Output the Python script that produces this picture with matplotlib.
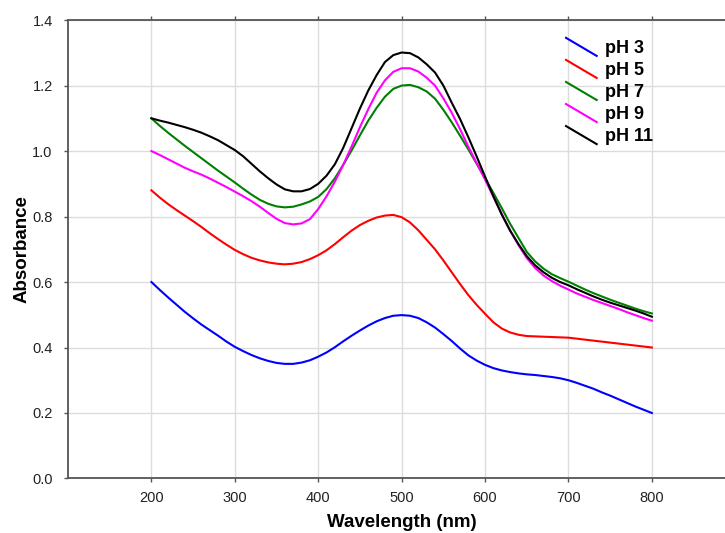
import numpy as np
import matplotlib
matplotlib.use('Agg')
import matplotlib.pyplot as plt
from matplotlib.lines import Line2D
from matplotlib.legend_handler import HandlerBase

plt.rcParams['font.family'] = ['Liberation Sans', 'DejaVu Sans']

# Wavelength (nm), 10 nm steps
wavelength = list(range(200, 810, 10))

# Absorbance
ph3 = [0.600, 0.576, 0.553, 0.531, 0.509, 0.489, 0.470, 0.453, 0.436, 0.418,
       0.402, 0.389, 0.377, 0.367, 0.359, 0.353, 0.350, 0.350, 0.354, 0.361,
       0.372, 0.385, 0.401, 0.419, 0.436, 0.452, 0.467, 0.480, 0.490, 0.497,
       0.499, 0.497, 0.490, 0.477, 0.461, 0.441, 0.420, 0.397, 0.376, 0.360,
       0.347, 0.337, 0.330, 0.325, 0.321, 0.318, 0.316, 0.313, 0.310, 0.306,
       0.300, 0.292, 0.283, 0.274, 0.263, 0.253, 0.242, 0.231, 0.220, 0.210,
       0.200]
ph5 = [0.880, 0.858, 0.838, 0.820, 0.803, 0.786, 0.768, 0.749, 0.731, 0.714,
       0.698, 0.685, 0.674, 0.666, 0.660, 0.656, 0.654, 0.656, 0.661, 0.670,
       0.682, 0.697, 0.716, 0.737, 0.757, 0.774, 0.787, 0.797, 0.803, 0.805,
       0.798, 0.782, 0.758, 0.729, 0.700, 0.666, 0.630, 0.594, 0.560, 0.530,
       0.503, 0.477, 0.458, 0.446, 0.439, 0.435, 0.434, 0.433, 0.432, 0.431,
       0.430, 0.427, 0.424, 0.421, 0.418, 0.415, 0.412, 0.409, 0.406, 0.403,
       0.400]
ph7 = [1.100, 1.077, 1.056, 1.036, 1.016, 0.997, 0.978, 0.959, 0.940, 0.922,
       0.904, 0.885, 0.867, 0.851, 0.839, 0.831, 0.828, 0.830, 0.837, 0.846,
       0.860, 0.884, 0.917, 0.958, 1.002, 1.048, 1.093, 1.132, 1.166, 1.190,
       1.200, 1.202, 1.195, 1.182, 1.160, 1.126, 1.088, 1.047, 1.005, 0.961,
       0.917, 0.872, 0.826, 0.778, 0.735, 0.692, 0.663, 0.641, 0.624, 0.612,
       0.601, 0.589, 0.577, 0.566, 0.556, 0.546, 0.537, 0.528, 0.519, 0.511,
       0.504]
ph9 = [1.000, 0.988, 0.975, 0.962, 0.949, 0.938, 0.928, 0.916, 0.903, 0.890,
       0.876, 0.862, 0.847, 0.830, 0.811, 0.793, 0.780, 0.776, 0.779, 0.792,
       0.823, 0.862, 0.907, 0.958, 1.014, 1.073, 1.128, 1.178, 1.216, 1.242,
       1.253, 1.253, 1.243, 1.224, 1.200, 1.161, 1.117, 1.067, 1.013, 0.963,
       0.913, 0.860, 0.808, 0.758, 0.713, 0.673, 0.643, 0.620, 0.603, 0.589,
       0.577, 0.565, 0.555, 0.545, 0.536, 0.527, 0.518, 0.508, 0.499, 0.490,
       0.482]
ph11 = [1.100, 1.093, 1.087, 1.080, 1.073, 1.065, 1.056, 1.045, 1.033, 1.018,
        1.003, 0.984, 0.961, 0.938, 0.917, 0.898, 0.883, 0.877, 0.877, 0.884,
        0.900, 0.925, 0.960, 1.010, 1.070, 1.130, 1.185, 1.232, 1.272, 1.293,
        1.301, 1.299, 1.286, 1.265, 1.240, 1.200, 1.148, 1.098, 1.042, 0.983,
        0.922, 0.862, 0.806, 0.757, 0.716, 0.679, 0.651, 0.630, 0.613, 0.600,
        0.590, 0.578, 0.567, 0.556, 0.546, 0.537, 0.529, 0.521, 0.513, 0.504,
        0.494]

labels = ['pH 3', 'pH 5', 'pH 7', 'pH 9', 'pH 11']
colors = ['#0000ff', '#ff0000', '#008000', '#ff00ff', '#000000']
series = [ph3, ph5, ph7, ph9, ph11]


class SlantHandler(HandlerBase):
    # legend keys drawn as slanted lines (top-left to bottom-right)
    def create_artists(self, legend, orig_handle, xdescent, ydescent,
                       width, height, fontsize, trans):
        x0, y0 = -xdescent, -ydescent
        line = Line2D([x0, x0 + width], [y0 + height * 1.2, y0 - height * 0.23],
                      color=orig_handle.get_color(), lw=orig_handle.get_linewidth())
        line.set_transform(trans)
        return [line]


fig = plt.figure(figsize=(7.25, 5.33), dpi=100)
ax = fig.add_axes([0.0938, 0.1023, 0.9204, 0.860])

lines = []
for y, c, lab in zip(series, colors, labels):
    ln, = ax.plot(wavelength, y, color=c, lw=1.5, label=lab)
    lines.append(ln)

ax.set_xlim(100, 900)
ax.set_ylim(0, 1.4)
ax.set_xticks([200, 300, 400, 500, 600, 700, 800])
ax.set_yticks(np.arange(0, 1.41, 0.2))
ax.set_yticklabels(['%.1f' % v for v in np.arange(0, 1.41, 0.2)])
ax.grid(True, color='#dcdcdc', lw=1)
ax.set_axisbelow(True)

ax.spines['right'].set_visible(False)
for s in ['left', 'bottom', 'top']:
    ax.spines[s].set_color('#555555')
    ax.spines[s].set_linewidth(1.3)

ax.tick_params(axis='both', labelsize=10.5, colors='#555555', labelcolor='#222222',
               length=3, width=1, direction='out')
ax.tick_params(axis='x', top=True, pad=6)
ax.tick_params(axis='y', pad=8)

ax.set_xlabel('Wavelength (nm)', fontsize=13.5, fontweight='bold', labelpad=6.5)
ax.set_ylabel('Absorbance', fontsize=13.5, fontweight='bold', labelpad=1)

fig.legend(lines, labels, handler_map={Line2D: SlantHandler()},
           loc='upper left', bbox_to_anchor=(566 / 725, 1 - 40 / 533),
           frameon=False, borderpad=0, borderaxespad=0, handlelength=1.7,
           handletextpad=0.45, labelspacing=0.28,
           prop={'size': 13, 'weight': 'bold'})

fig.savefig('out.png', dpi=100)
